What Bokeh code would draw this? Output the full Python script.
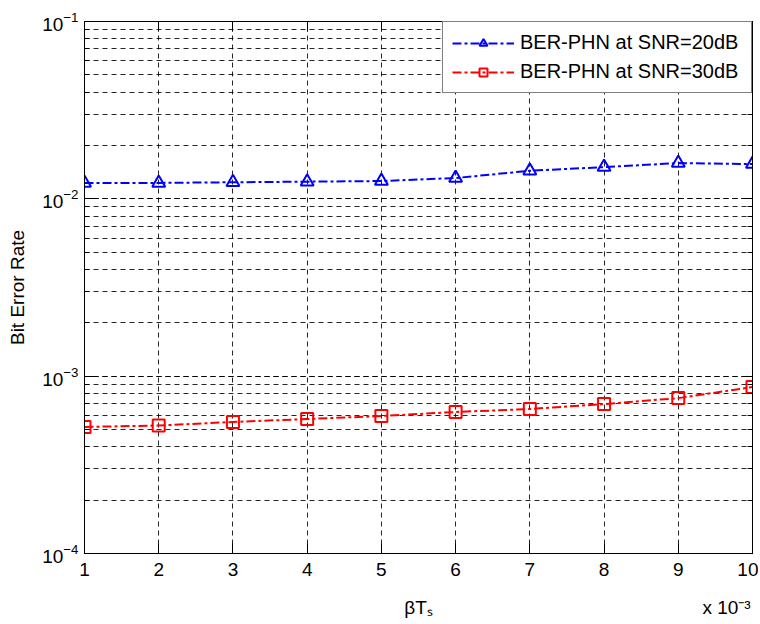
from bokeh.plotting import figure
from bokeh.models import (Range1d, FixedTicker, LogTicker, LinearAxis, LogAxis,
                          Legend, LegendItem, CustomJSTickFormatter)
from bokeh.embed import file_html
from bokeh.resources import INLINE

# ---- data ----
x_vals = [1, 2, 3, 4, 5, 6, 7, 8, 9, 10]
ber_snr20 = [0.0123, 0.0123, 0.0124, 0.0125, 0.0126, 0.0131, 0.0144, 0.0151, 0.0159, 0.0157]
ber_snr30 = [5.17e-4, 5.27e-4, 5.52e-4, 5.73e-4, 5.96e-4, 6.28e-4, 6.53e-4, 6.96e-4, 7.52e-4, 8.68e-4]
series_labels = ["BER-PHN at SNR=20dB", "BER-PHN at SNR=30dB"]
x_ticks = [1, 2, 3, 4, 5, 6, 7, 8, 9, 10]
y_label_text = "Bit Error Rate"
x_label_text = "\u03b2T\u209b"
x_scale_text = "x 10\u207b\u00b3"

FONT = "Liberation Sans"
FS = "19px"
GRID_DASH = "5 4"


def blank():
    return CustomJSTickFormatter(code="return ''")


p = figure(width=758, height=620, output_backend="svg", toolbar_location=None,
           y_axis_type="log", x_range=Range1d(1, 10), y_range=Range1d(1e-4, 1e-1),
           min_border_left=84, min_border_right=6, min_border_top=21, min_border_bottom=65,
           background_fill_color="white", border_fill_color="white")
p.outline_line_color = "black"
p.outline_line_width = 1

# bottom x axis (tick labels)
xa = p.xaxis[0]
xa.ticker = FixedTicker(ticks=x_ticks)
xa.major_tick_in = 10
xa.major_tick_out = 0
xa.minor_tick_line_color = None
xa.major_label_text_font = FONT
xa.major_label_text_font_size = FS
xa.major_label_text_color = "black"
xa.major_label_standoff = 9
xa.axis_line_color = "black"
xa.major_tick_line_color = "black"

# second bottom row: axis title and scale factor on the same line
x_title_pos = 5.5
x_scale_pos = 9.65
xa2 = LinearAxis(ticker=FixedTicker(ticks=[x_title_pos, x_scale_pos]),
                 major_label_overrides={x_title_pos: x_label_text, x_scale_pos: x_scale_text},
                 major_tick_line_color=None, minor_tick_line_color=None, axis_line_color=None,
                 major_label_text_font=FONT, major_label_text_font_size=FS,
                 major_label_text_color="black", major_label_standoff=12)
p.add_layout(xa2, "below")

# left y axis
ya = p.yaxis[0]
ya.ticker = LogTicker(num_minor_ticks=10)
ya.major_tick_in = 10
ya.major_tick_out = 0
ya.minor_tick_in = 5
ya.minor_tick_out = 0
ya.major_label_standoff = 6
ya.major_label_text_font = FONT
ya.major_label_text_font_size = FS
ya.major_label_text_color = "black"
ya.axis_label = y_label_text
ya.axis_label_text_font = FONT
ya.axis_label_text_font_size = FS
ya.axis_label_text_font_style = "normal"
ya.axis_label_text_color = "black"
ya.axis_label_standoff = 11
ya.axis_line_color = "black"
ya.major_tick_line_color = "black"
ya.minor_tick_line_color = "black"

# top and right axes for box ticks
top_ax = LinearAxis(ticker=FixedTicker(ticks=x_ticks), formatter=blank(),
                    major_tick_in=10, major_tick_out=0,
                    minor_tick_line_color=None, major_label_standoff=0,
                    axis_line_color="black")
p.add_layout(top_ax, "above")
right_ax = LogAxis(ticker=LogTicker(num_minor_ticks=10), formatter=blank(),
                   major_tick_in=10, major_tick_out=0,
                   minor_tick_in=5, minor_tick_out=0, major_label_standoff=0,
                   axis_line_color="black")
p.add_layout(right_ax, "right")

# grids
p.xgrid.ticker = FixedTicker(ticks=x_ticks)
p.xgrid.grid_line_color = "black"
p.xgrid.grid_line_dash = GRID_DASH
p.xgrid.grid_line_alpha = 0.85
p.ygrid.grid_line_color = "black"
p.ygrid.grid_line_dash = GRID_DASH
p.ygrid.grid_line_alpha = 0.85
p.ygrid.minor_grid_line_color = "black"
p.ygrid.minor_grid_line_dash = GRID_DASH
p.ygrid.minor_grid_line_alpha = 0.85

# series
r1l = p.line(x_vals, ber_snr20, line_color="#0000FF", line_width=2, line_dash="9 3 3 3")
r1m = p.scatter(x_vals, ber_snr20, marker="triangle", size=13, line_color="#0000FF",
                line_width=2, fill_color=None)
r2l = p.line(x_vals, ber_snr30, line_color="#FF0000", line_width=2, line_dash="9 3 3 3")
r2m = p.scatter(x_vals, ber_snr30, marker="square", size=12, line_color="#FF0000",
                line_width=2, fill_color=None)

legend = Legend(items=[LegendItem(label=series_labels[0], renderers=[r1l, r1m]),
                       LegendItem(label=series_labels[1], renderers=[r2l, r2m])],
                location="top_right", margin=0, padding=9, spacing=6,
                glyph_width=62, glyph_height=20, label_height=20, label_width=222,
                label_standoff=6,
                label_text_font=FONT, label_text_font_size="20px", label_text_color="black",
                border_line_color="black", border_line_width=1,
                background_fill_color="white", background_fill_alpha=1.0)
p.add_layout(legend)

open("out.html", "w").write(file_html(p, INLINE))
